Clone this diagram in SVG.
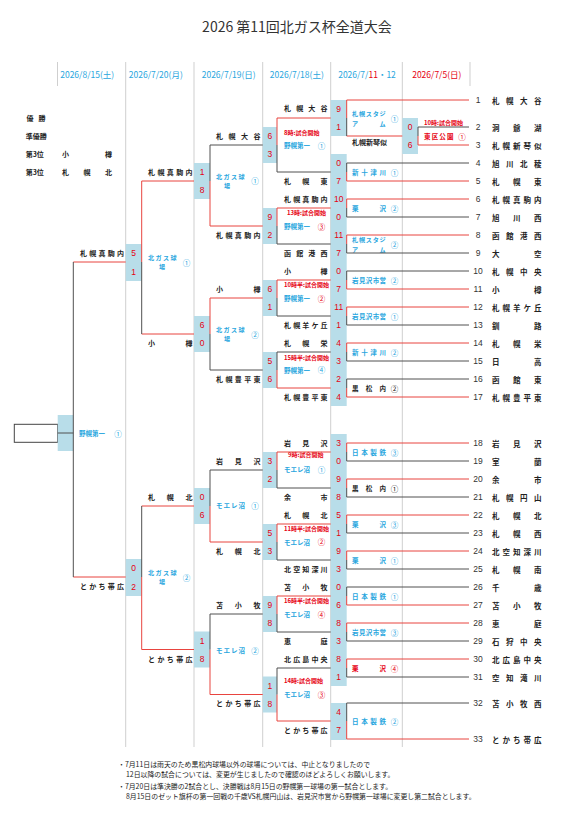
<svg xmlns="http://www.w3.org/2000/svg" width="574" height="817" viewBox="0 0 574 817">
<style>
text{font-family:"Noto Sans CJK JP","Noto Sans",sans-serif;dominant-baseline:central}
.sep{stroke:#cfcfcf;stroke-width:1}
.r{stroke:#e8443f;stroke-width:1;fill:none}
.d{stroke:#505050;stroke-width:1;fill:none}
.bx{fill:#b8dde9}
.sc{font-family:"Liberation Sans",sans-serif;font-size:8.5px;fill:#e60012;text-anchor:middle}
.nm{font-size:7px;font-weight:bold;fill:#222}
.tn{font-size:7.5px;font-weight:bold;fill:#222}
.no{font-family:"Liberation Sans",sans-serif;font-size:8.5px;fill:#333;text-anchor:middle}
.vb{font-size:6.5px;font-weight:bold;fill:#29a6de}
.v2{font-size:6.1px;font-weight:bold;fill:#29a6de}
.vk{font-size:6.5px;font-weight:bold;fill:#222}
.vr{font-size:6.5px;font-weight:bold;fill:#e60012}
.tm{font-size:6px;font-weight:bold;fill:#e60012}
.cb{font-size:7.5px;fill:#29a6de;text-anchor:middle}
.ck{font-size:7.5px;fill:#222;text-anchor:middle}
.cr{font-size:7.5px;fill:#e60012;text-anchor:middle}
.dt{font-size:8.5px;fill:#29a6de;text-anchor:middle}
.ft{font-size:6.9px;fill:#222}
</style>

<g id="grid">
<line class="sep" x1="57.5" y1="62" x2="57.5" y2="86"/>
<line class="sep" x1="125.7" y1="62" x2="125.7" y2="747"/>
<line class="sep" x1="194" y1="62" x2="194" y2="747"/>
<line class="sep" x1="262.7" y1="62" x2="262.7" y2="747"/>
<line class="sep" x1="330.7" y1="62" x2="330.7" y2="747"/>
<line class="sep" x1="402.3" y1="62" x2="402.3" y2="747"/>
<line class="sep" x1="470" y1="62" x2="470" y2="86"/>
</g>

<g id="title">
<text x="297" y="26" font-size="14" text-anchor="middle" fill="#333">2026 第11回北ガス杯全道大会</text>
</g>

<g id="dates">
<text class="dt" x="87.2" y="74">2026/8/15(土)</text>
<text class="dt" x="155.8" y="74">2026/7/20(月)</text>
<text class="dt" x="228.7" y="74">2026/7/19(日)</text>
<text class="dt" x="296.8" y="74">2026/7/18(土)</text>
<text class="dt" x="367" y="74">2026/7/<tspan fill="#e60012">11</tspan>・12</text>
<text class="dt" x="436.8" y="74" style="fill:#e60012">2026/7/5(日)</text>
</g>

<g id="results">
<text class="nm" x="26.5 38.5" y="118">優勝</text>
<text class="nm" x="25.7" y="136">準優勝</text>
<text class="nm" x="25.7" y="154">第3位</text>
<text class="nm" x="62 105" y="154">小樽</text>
<text class="nm" x="25.7" y="172">第3位</text>
<text class="nm" x="62 83.5 105" y="172">札幌北</text>
</g>

<!-- Final -->
<g id="final">
<rect x="14.3" y="424.3" width="43.4" height="18" fill="#fff" stroke="#444" stroke-width="1"/>
<rect class="bx" x="57.7" y="415" width="15.6" height="36"/>
<text class="vb" x="79" y="433">野幌第一</text>
<text class="cb" x="118" y="433">①</text>
</g>

<!-- Semifinals -->
<g id="sf1">
<rect class="bx" x="125.7" y="244" width="16" height="37"/>
<text class="sc" x="133.7" y="253">5</text>
<text class="sc" x="133.7" y="271.5">1</text>
<text class="nm" x="80 89.25 98.5 107.75 117" y="253">札幌真駒内</text>
<text class="v2" x="148 155.5 163 170.5" y="257.4">北ガス球</text>
<text class="v2" x="159" y="266.6">場</text>
<text class="cb" x="186.5" y="262">①</text>
</g>
<g id="sf2">
<rect class="bx" x="125.7" y="559" width="16" height="37"/>
<text class="sc" x="133.7" y="568">0</text>
<text class="sc" x="133.7" y="586.5">2</text>
<text class="nm" x="80 89.25 98.5 107.75 117" y="586">とかち帯広</text>
<text class="v2" x="148 155.5 163 170.5" y="572.4">北ガス球</text>
<text class="v2" x="159" y="581.6">場</text>
<text class="cb" x="186.5" y="577">②</text>
</g>

<!-- Quarterfinals -->
<g id="qf1">
<rect class="bx" x="194" y="163" width="16" height="36"/>
<text class="sc" x="202" y="172">1</text>
<text class="sc" x="202" y="190">8</text>
<text class="nm" x="148 157.38 166.75 176.13 185.5" y="172">札幌真駒内</text>
<text class="v2" x="216 223.5 231 238.5" y="176.2">北ガス球</text>
<text class="v2" x="224" y="185.4">場</text>
<text class="cb" x="255" y="180.7">①</text>
</g>
<g id="qf2">
<rect class="bx" x="194" y="316" width="16" height="36"/>
<text class="sc" x="202" y="325">6</text>
<text class="sc" x="202" y="343">0</text>
<text class="nm" x="148 185.5" y="343">小樽</text>
<text class="v2" x="216 223.5 231 238.5" y="329.6">北ガス球</text>
<text class="v2" x="224" y="338.8">場</text>
<text class="cb" x="255" y="334.3">②</text>
</g>
<g id="qf3">
<rect class="bx" x="194" y="488" width="16" height="36"/>
<text class="sc" x="202" y="497">0</text>
<text class="sc" x="202" y="515">6</text>
<text class="nm" x="148 166.75 185.5" y="497">札幌北</text>
<text class="vb" x="216 223.5 231 238.5" y="505">モエレ沼</text>
<text class="cb" x="255" y="505">①</text>
</g>
<g id="qf4">
<rect class="bx" x="194" y="631.5" width="16" height="36"/>
<text class="sc" x="202" y="640.5">1</text>
<text class="sc" x="202" y="658.5">8</text>
<text class="nm" x="148 157.38 166.75 176.13 185.5" y="658.5">とかち帯広</text>
<text class="vb" x="216 223.5 231 238.5" y="650">モエレ沼</text>
<text class="cb" x="255" y="650">②</text>
</g>

<!-- Round of 16 -->
<g id="r16-1">
<rect class="bx" x="262.7" y="127" width="14.3" height="36"/>
<text class="sc" x="269.9" y="136">6</text>
<text class="sc" x="269.9" y="154">3</text>
<text class="nm" x="216 228.5 241 253.5" y="136">札幌大谷</text>
<text class="tm" x="284" y="132">8時:試合開始</text>
<text class="vb" x="284" y="145">野幌第一</text>
<text class="cb" x="321.5" y="145">①</text>
</g>
<g id="r16-2">
<rect class="bx" x="262.7" y="208" width="14.3" height="36"/>
<text class="sc" x="269.9" y="217">9</text>
<text class="sc" x="269.9" y="235">2</text>
<text class="nm" x="216 225.38 234.75 244.13 253.5" y="235">札幌真駒内</text>
<text class="tm" x="287" y="212.3">13時:試合開始</text>
<text class="vb" x="284" y="226">野幌第一</text>
<text class="cr" x="321.5" y="226">③</text>
</g>
<g id="r16-3">
<rect class="bx" x="262.7" y="280" width="14.3" height="36"/>
<text class="sc" x="269.9" y="289">6</text>
<text class="sc" x="269.9" y="307">1</text>
<text class="nm" x="216 253.5" y="289">小樽</text>
<text class="tm" x="284" y="284.3">10時半:試合開始</text>
<text class="vb" x="284" y="298.3">野幌第一</text>
<text class="cr" x="321.5" y="298.3">②</text>
</g>
<g id="r16-4">
<rect class="bx" x="262.7" y="352" width="14.3" height="36"/>
<text class="sc" x="269.9" y="361">5</text>
<text class="sc" x="269.9" y="379">6</text>
<text class="nm" x="216 225.38 234.75 244.13 253.5" y="379">札幌豊平東</text>
<text class="tm" x="284" y="357.3">15時半:試合開始</text>
<text class="vb" x="284" y="369.5">野幌第一</text>
<text class="cb" x="321.5" y="369.5">④</text>
</g>
<g id="r16-5">
<rect class="bx" x="262.7" y="452" width="14.3" height="36"/>
<text class="sc" x="269.9" y="461">3</text>
<text class="sc" x="269.9" y="479">2</text>
<text class="nm" x="216 234.75 253.5" y="461">岩見沢</text>
<text class="tm" x="288" y="454.5">9時:試合開始</text>
<text class="vb" x="284" y="469.3">モエレ沼</text>
<text class="cb" x="321.5" y="469.3">①</text>
</g>
<g id="r16-6">
<rect class="bx" x="262.7" y="524" width="14.3" height="36"/>
<text class="sc" x="269.9" y="533">5</text>
<text class="sc" x="269.9" y="551">3</text>
<text class="nm" x="216 234.75 253.5" y="551">札幌北</text>
<text class="tm" x="284" y="528.3">11時半:試合開始</text>
<text class="vb" x="284" y="541.7">モエレ沼</text>
<text class="cr" x="321.5" y="541.7">②</text>
</g>
<g id="r16-7">
<rect class="bx" x="262.7" y="596" width="14.3" height="36"/>
<text class="sc" x="269.9" y="605">9</text>
<text class="sc" x="269.9" y="623">8</text>
<text class="nm" x="216 234.75 253.5" y="605">苫小牧</text>
<text class="tm" x="284" y="600.5">16時半:試合開始</text>
<text class="vb" x="284" y="614.3">モエレ沼</text>
<text class="cr" x="321.5" y="614.3">④</text>
</g>
<g id="r16-8">
<rect class="bx" x="262.7" y="676.5" width="14.3" height="36"/>
<text class="sc" x="269.9" y="685.5">1</text>
<text class="sc" x="269.9" y="703.5">8</text>
<text class="nm" x="216 225.38 234.75 244.13 253.5" y="703">とかち帯広</text>
<text class="tm" x="284" y="680">14時:試合開始</text>
<text class="vb" x="284" y="694">モエレ沼</text>
<text class="cr" x="321.5" y="694">③</text>
</g>

<!-- Round of 32 -->
<g id="r32-1">
<rect class="bx" x="330.7" y="100" width="16" height="36"/>
<text class="sc" x="338.7" y="108.5">9</text>
<text class="sc" x="338.7" y="127">1</text>
<text class="nm" x="284 296.17 308.33 320.5" y="108">札幌大谷</text>
<text class="nm" x="352" y="142">札幌新琴似</text>
<text class="v2" x="352 358.88 365.75 372.63 379.5" y="113.7">札幌スタジ</text>
<text class="v2" x="352 379.5" y="123.2">アム</text>
<text class="cb" x="394.5" y="118.5">①</text>
</g>
<g id="r32-2">
<rect class="bx" x="330.7" y="154" width="16" height="36"/>
<text class="sc" x="338.7" y="163">0</text>
<text class="sc" x="338.7" y="181">7</text>
<text class="nm" x="284 302.25 320.5" y="181">札幌東</text>
<text class="vb" x="352 361.17 370.33 379.5" y="172">新十津川</text>
<text class="cb" x="394.5" y="172">①</text>
</g>
<g id="r32-3">
<rect class="bx" x="330.7" y="190" width="16" height="36"/>
<text class="sc" x="338.7" y="199">10</text>
<text class="sc" x="338.7" y="217">0</text>
<text class="nm" x="284 293.13 302.25 311.38 320.5" y="199">札幌真駒内</text>
<text class="vb" x="352 379.5" y="208">栗沢</text>
<text class="cb" x="394.5" y="208">②</text>
</g>
<g id="r32-4">
<rect class="bx" x="330.7" y="226" width="16" height="36"/>
<text class="sc" x="338.7" y="235">11</text>
<text class="sc" x="338.7" y="253">7</text>
<text class="nm" x="284 296.17 308.33 320.5" y="253">函館港西</text>
<text class="v2" x="352 358.88 365.75 372.63 379.5" y="239.7">札幌スタジ</text>
<text class="v2" x="352 379.5" y="249.2">アム</text>
<text class="cb" x="394.5" y="244.5">②</text>
</g>
<g id="r32-5">
<rect class="bx" x="330.7" y="262" width="16" height="36"/>
<text class="sc" x="338.7" y="271">0</text>
<text class="sc" x="338.7" y="289">7</text>
<text class="nm" x="284 320.5" y="271">小樽</text>
<text class="vb" x="352 358.88 365.75 372.63 379.5" y="280">岩見沢市営</text>
<text class="cb" x="394.5" y="280">②</text>
</g>
<g id="r32-6">
<rect class="bx" x="330.7" y="298" width="16" height="36"/>
<text class="sc" x="338.7" y="307">11</text>
<text class="sc" x="338.7" y="325">1</text>
<text class="nm" x="284 293.13 302.25 311.38 320.5" y="325">札幌羊ケ丘</text>
<text class="vb" x="352 358.88 365.75 372.63 379.5" y="316">岩見沢市営</text>
<text class="cb" x="394.5" y="316">①</text>
</g>
<g id="r32-7">
<rect class="bx" x="330.7" y="334" width="16" height="36"/>
<text class="sc" x="338.7" y="343">4</text>
<text class="sc" x="338.7" y="361">3</text>
<text class="nm" x="284 302.25 320.5" y="343">札幌栄</text>
<text class="vb" x="352 361.17 370.33 379.5" y="352">新十津川</text>
<text class="cb" x="394.5" y="352">②</text>
</g>
<g id="r32-8">
<rect class="bx" x="330.7" y="370" width="16" height="36"/>
<text class="sc" x="338.7" y="379">2</text>
<text class="sc" x="338.7" y="397">4</text>
<text class="nm" x="284 293.13 302.25 311.38 320.5" y="397">札幌豊平東</text>
<text class="vk" x="352 365.75 379.5" y="388">黒松内</text>
<text class="ck" x="394.5" y="388">②</text>
</g>
<g id="r32-9">
<rect class="bx" x="330.7" y="434" width="16" height="36"/>
<text class="sc" x="338.7" y="443">3</text>
<text class="sc" x="338.7" y="461">0</text>
<text class="nm" x="284 302.25 320.5" y="443">岩見沢</text>
<text class="vb" x="352 361.17 370.33 379.5" y="452">日本製鉄</text>
<text class="cb" x="394.5" y="452">③</text>
</g>
<g id="r32-10">
<rect class="bx" x="330.7" y="470" width="16" height="36"/>
<text class="sc" x="338.7" y="479">9</text>
<text class="sc" x="338.7" y="497">8</text>
<text class="nm" x="284 320.5" y="497">余市</text>
<text class="vk" x="352 365.75 379.5" y="488">黒松内</text>
<text class="ck" x="394.5" y="488">①</text>
</g>
<g id="r32-11">
<rect class="bx" x="330.7" y="506" width="16" height="36"/>
<text class="sc" x="338.7" y="515">5</text>
<text class="sc" x="338.7" y="533">1</text>
<text class="nm" x="284 302.25 320.5" y="515">札幌北</text>
<text class="vb" x="352 379.5" y="524">栗沢</text>
<text class="cb" x="394.5" y="524">③</text>
</g>
<g id="r32-12">
<rect class="bx" x="330.7" y="542" width="16" height="36"/>
<text class="sc" x="338.7" y="551">9</text>
<text class="sc" x="338.7" y="569">3</text>
<text class="nm" x="284 293.13 302.25 311.38 320.5" y="569">北空知深川</text>
<text class="vb" x="352 379.5" y="560">栗沢</text>
<text class="cb" x="394.5" y="560">①</text>
</g>
<g id="r32-13">
<rect class="bx" x="330.7" y="578" width="16" height="36"/>
<text class="sc" x="338.7" y="587">0</text>
<text class="sc" x="338.7" y="605">6</text>
<text class="nm" x="284 302.25 320.5" y="587">苫小牧</text>
<text class="vb" x="352 361.17 370.33 379.5" y="596">日本製鉄</text>
<text class="cb" x="394.5" y="596">①</text>
</g>
<g id="r32-14">
<rect class="bx" x="330.7" y="614" width="16" height="36"/>
<text class="sc" x="338.7" y="623">8</text>
<text class="sc" x="338.7" y="641">3</text>
<text class="nm" x="284 320.5" y="641">恵庭</text>
<text class="vb" x="352 358.88 365.75 372.63 379.5" y="632">岩見沢市営</text>
<text class="cb" x="394.5" y="632">③</text>
</g>
<g id="r32-15">
<rect class="bx" x="330.7" y="650" width="16" height="36"/>
<text class="sc" x="338.7" y="659">8</text>
<text class="sc" x="338.7" y="677">1</text>
<text class="nm" x="284 293.13 302.25 311.38 320.5" y="659">北広島中央</text>
<text class="vr" x="352 379.5" y="668">栗沢</text>
<text class="cr" x="394.5" y="668">④</text>
</g>
<g id="r32-16">
<rect class="bx" x="330.7" y="703" width="16" height="37"/>
<text class="sc" x="338.7" y="712">4</text>
<text class="sc" x="338.7" y="730">7</text>
<text class="nm" x="284 293.13 302.25 311.38 320.5" y="730">とかち帯広</text>
<text class="vb" x="352 361.17 370.33 379.5" y="721">日本製鉄</text>
<text class="cb" x="394.5" y="721">②</text>
</g>

<!-- First round -->
<g id="r1">
<rect class="bx" x="402.3" y="118" width="15.7" height="36"/>
<text class="sc" x="410.2" y="127">0</text>
<text class="sc" x="410.2" y="145">6</text>
<text class="tm" x="424" y="122.5">10時:試合開始</text>
<text class="vr" x="424 431.7 439.3 447" y="136">東区公園</text>
<text class="cr" x="462" y="136">①</text>
</g>

<!-- Teams -->
<g id="teams">
<g id="team-1"><text class="no" x="478" y="100">1</text><text class="tn" x="492 506 520 534" y="100">札幌大谷</text></g>
<g id="team-2"><text class="no" x="478" y="127">2</text><text class="tn" x="492 513 534" y="127">洞爺湖</text></g>
<g id="team-3"><text class="no" x="478" y="145">3</text><text class="tn" x="492 502.5 513 523.5 534" y="145">札幌新琴似</text></g>
<g id="team-4"><text class="no" x="478" y="163">4</text><text class="tn" x="492 506 520 534" y="163">旭川北稜</text></g>
<g id="team-5"><text class="no" x="478" y="181">5</text><text class="tn" x="492 513 534" y="181">札幌東</text></g>
<g id="team-6"><text class="no" x="478" y="199">6</text><text class="tn" x="492 502.5 513 523.5 534" y="199">札幌真駒内</text></g>
<g id="team-7"><text class="no" x="478" y="217">7</text><text class="tn" x="492 513 534" y="217">旭川西</text></g>
<g id="team-8"><text class="no" x="478" y="235">8</text><text class="tn" x="492 506 520 534" y="235">函館港西</text></g>
<g id="team-9"><text class="no" x="478" y="253">9</text><text class="tn" x="492 534" y="253">大空</text></g>
<g id="team-10"><text class="no" x="478" y="271">10</text><text class="tn" x="492 506 520 534" y="271">札幌中央</text></g>
<g id="team-11"><text class="no" x="478" y="289">11</text><text class="tn" x="492 534" y="289">小樽</text></g>
<g id="team-12"><text class="no" x="478" y="307">12</text><text class="tn" x="492 502.5 513 523.5 534" y="307">札幌羊ケ丘</text></g>
<g id="team-13"><text class="no" x="478" y="325">13</text><text class="tn" x="492 534" y="325">釧路</text></g>
<g id="team-14"><text class="no" x="478" y="343">14</text><text class="tn" x="492 513 534" y="343">札幌栄</text></g>
<g id="team-15"><text class="no" x="478" y="361">15</text><text class="tn" x="492 534" y="361">日高</text></g>
<g id="team-16"><text class="no" x="478" y="379">16</text><text class="tn" x="492 513 534" y="379">函館東</text></g>
<g id="team-17"><text class="no" x="478" y="397">17</text><text class="tn" x="492 502.5 513 523.5 534" y="397">札幌豊平東</text></g>
<g id="team-18"><text class="no" x="478" y="443">18</text><text class="tn" x="492 513 534" y="443">岩見沢</text></g>
<g id="team-19"><text class="no" x="478" y="461">19</text><text class="tn" x="492 534" y="461">室蘭</text></g>
<g id="team-20"><text class="no" x="478" y="479">20</text><text class="tn" x="492 534" y="479">余市</text></g>
<g id="team-21"><text class="no" x="478" y="497">21</text><text class="tn" x="492 506 520 534" y="497">札幌円山</text></g>
<g id="team-22"><text class="no" x="478" y="515">22</text><text class="tn" x="492 513 534" y="515">札幌北</text></g>
<g id="team-23"><text class="no" x="478" y="533">23</text><text class="tn" x="492 513 534" y="533">札幌西</text></g>
<g id="team-24"><text class="no" x="478" y="551">24</text><text class="tn" x="492 502.5 513 523.5 534" y="551">北空知深川</text></g>
<g id="team-25"><text class="no" x="478" y="569">25</text><text class="tn" x="492 513 534" y="569">札幌南</text></g>
<g id="team-26"><text class="no" x="478" y="587">26</text><text class="tn" x="492 534" y="587">千歳</text></g>
<g id="team-27"><text class="no" x="478" y="605">27</text><text class="tn" x="492 513 534" y="605">苫小牧</text></g>
<g id="team-28"><text class="no" x="478" y="623">28</text><text class="tn" x="492 534" y="623">恵庭</text></g>
<g id="team-29"><text class="no" x="478" y="641">29</text><text class="tn" x="492 506 520 534" y="641">石狩中央</text></g>
<g id="team-30"><text class="no" x="478" y="659">30</text><text class="tn" x="492 502.5 513 523.5 534" y="659">北広島中央</text></g>
<g id="team-31"><text class="no" x="478" y="677">31</text><text class="tn" x="492 506 520 534" y="677">空知滝川</text></g>
<g id="team-32"><text class="no" x="478" y="703">32</text><text class="tn" x="492 506 520 534" y="703">苫小牧西</text></g>
<g id="team-33"><text class="no" x="478" y="739">33</text><text class="tn" x="492 502.5 513 523.5 534" y="739">とかち帯広</text></g>
</g>

<g id="connectors">
<path class="r" d="M346.7 100H469M418 145H469M346.7 181H469M346.7 199H469M346.7 235H469M346.7 289H469M346.7 307H469M346.7 343H469M346.7 397H469M346.7 443H469M346.7 479H469M346.7 515H469M346.7 551H469M346.7 605H469M346.7 623H469M346.7 659H469M346.7 739H469"/>
<path class="d" d="M418 127H469M346.7 163H469M346.7 217H469M346.7 253H469M346.7 271H469M346.7 325H469M346.7 361H469M346.7 379H469M346.7 461H469M346.7 497H469M346.7 533H469M346.7 569H469M346.7 587H469M346.7 641H469M346.7 677H469M346.7 703H469"/>
<path class="r" d="M418 136V145M346.7 136H402.3"/>
<path class="d" d="M418 127V136"/>
<path class="r" d="M346.7 100V118M346.7 172V181M346.7 199V208M346.7 235V244M346.7 280V289M346.7 307V316M346.7 343V352M346.7 388V397M346.7 443V452M346.7 479V488M346.7 515V524M346.7 551V560M346.7 596V605M346.7 623V632M346.7 659V668M346.7 721V739"/>
<path class="d" d="M346.7 118V136M346.7 163V172M346.7 208V217M346.7 244V253M346.7 271V280M346.7 316V325M346.7 352V361M346.7 379V388M346.7 452V461M346.7 488V497M346.7 524V533M346.7 560V569M346.7 587V596M346.7 632V641M346.7 668V677M346.7 703V721"/>
<path class="r" d="M277 118H330.7M277 208H330.7M277 280H330.7M277 388H330.7M277 452H330.7M277 524H330.7M277 596H330.7M277 721H330.7"/>
<path class="d" d="M277 172H330.7M277 244H330.7M277 316H330.7M277 352H330.7M277 488H330.7M277 560H330.7M277 632H330.7M277 668H330.7"/>
<path class="r" d="M277 118V145M277 208V226M277 280V298M277 370V388M277 452V470M277 524V542M277 596V614M277 694.5V721"/>
<path class="d" d="M277 145V172M277 226V244M277 298V316M277 352V370M277 470V488M277 542V560M277 614V632M277 668V694.5"/>
<path class="r" d="M210 226H262.7M210 298H262.7M210 542H262.7M210 694.5H262.7"/>
<path class="d" d="M210 145H262.7M210 370H262.7M210 470H262.7M210 614H262.7"/>
<path class="r" d="M210 181V226M210 298V334M210 506V542M210 649.5V694.5"/>
<path class="d" d="M210 145V181M210 334V370M210 470V506M210 614V649.5"/>
<path class="r" d="M141.7 181H194M141.7 334H194M141.7 506H194M141.7 649.5H194"/>
<path class="r" d="M141.7 181V262M141.7 577V649.5"/>
<path class="d" d="M141.7 262V334M141.7 506V577"/>
<path class="r" d="M73.3 262H125.7M73.3 577H125.7"/>
<path class="d" d="M73.3 262V577M57.7 433H73.3"/>
</g>

<g id="notes">
<text class="ft" x="118" y="763.5">・7月11日は雨天のため黒松内球場以外の球場については、中止となりましたので</text>
<text class="ft" x="126" y="773.7">12日以降の試合については、変更が生じましたので確認のほどよろしくお願いします。</text>
<text class="ft" x="118" y="786">・7月20日は準決勝の2試合とし、決勝戦は8月15日の野幌第一球場の第一試合とします。</text>
<text class="ft" x="126" y="796.2">8月15日のゼット旗杯の第一回戦の千歳VS札幌円山は、岩見沢市営から野幌第一球場に変更し第二試合とします。</text>
</g>
</svg>
